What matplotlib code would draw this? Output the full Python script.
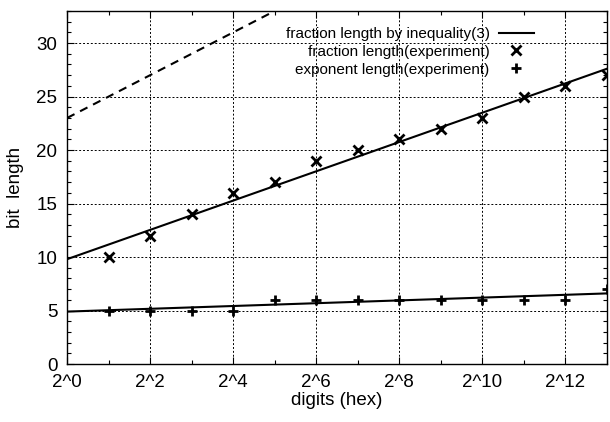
import matplotlib
matplotlib.use("Agg")
import matplotlib.pyplot as plt
from matplotlib.ticker import MultipleLocator

# Data (x is log2 of the number of hex digits)
digits_exp = [1, 2, 3, 4, 5, 6, 7, 8, 9, 10, 11, 12, 13]
fraction_exp = [10, 12, 14, 16, 17, 19, 20, 21, 22, 23, 25, 26, 27]
exponent_exp = [5, 5, 5, 5, 6, 6, 6, 6, 6, 6, 6, 6, 7]

line_x = [0, 13]
fraction_bound = [9.8, 27.6]
exponent_bound = [4.9, 6.6]
dashed_x = [0, 5]
dashed_y = [23, 33]

xtick_pos = [0, 2, 4, 6, 8, 10, 12]
xtick_labels = ["2^0", "2^2", "2^4", "2^6", "2^8", "2^10", "2^12"]

plt.rcParams['font.family'] = ['Liberation Sans', 'DejaVu Sans']

fig = plt.figure(figsize=(6.10, 4.22), dpi=100)
ax = fig.add_axes([0.110, 0.1374, 0.885, 0.8366])

ax.plot(line_x, fraction_bound, color='black', lw=1.5,
        label='fraction length by inequality(3)')
ax.plot(line_x, exponent_bound, color='black', lw=1.5)
ax.plot(dashed_x, dashed_y, color='black', lw=1.5, ls=(0, (4, 3)))
ax.plot(digits_exp, fraction_exp, ls='none', marker='x', ms=6.5, mew=2,
        color='black', label='fraction length(experiment)')
ax.plot(digits_exp, exponent_exp, ls='none', marker='+', ms=7.5, mew=2,
        color='black', label='exponent length(experiment)')

ax.set_xlim(0, 13)
ax.set_ylim(0, 33)
ax.set_xticks(xtick_pos)
ax.set_xticklabels(xtick_labels)
ax.xaxis.set_minor_locator(MultipleLocator(1))
ax.yaxis.set_major_locator(MultipleLocator(5))
ax.yaxis.set_minor_locator(MultipleLocator(1))
ax.tick_params(which='both', direction='in', top=True, right=True,
               labelsize=13.5, width=0.8, colors='black')
ax.tick_params(which='major', length=5, pad=7)
ax.tick_params(which='minor', length=3)
for s in ax.spines.values():
    s.set_linewidth(1.0)

ax.grid(True, which='major', color='black', ls=(0, (2, 2)), lw=0.7)

ax.set_xlabel('digits (hex)', fontsize=13.5, labelpad=1)
ax.set_ylabel('bit  length', fontsize=13.5, labelpad=9)

leg = ax.legend(loc='upper right', bbox_to_anchor=(534 / 610, 1 - 27 / 422),
                bbox_transform=fig.transFigure, frameon=False, markerfirst=False,
                fontsize=11, handlelength=2.3, handletextpad=0.6,
                labelspacing=0.25, borderpad=0, borderaxespad=0)

fig.savefig('out.png', dpi=100)
